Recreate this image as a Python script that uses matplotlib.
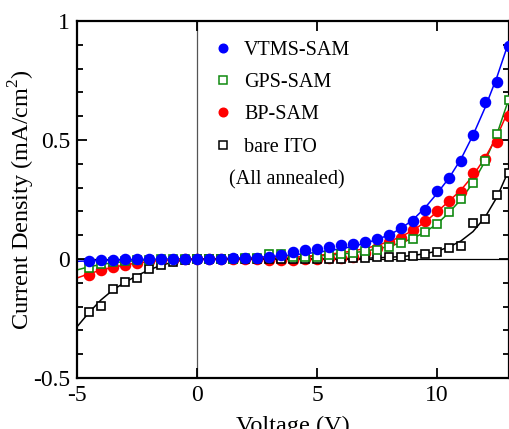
import matplotlib
matplotlib.use('Agg')
import matplotlib.pyplot as plt

plt.rcParams['font.family'] = ['Liberation Serif', 'DejaVu Serif']
plt.rcParams['mathtext.fontset'] = 'custom'
plt.rcParams['mathtext.rm'] = 'Liberation Serif'
plt.rcParams['axes.unicode_minus'] = False

# measured points, -4.5 V to 13 V in 0.5 V steps
volts = [-4.5, -4.0, -3.5, -3.0, -2.5, -2.0, -1.5, -1.0, -0.5, 0.0,
         0.5, 1.0, 1.5, 2.0, 2.5, 3.0, 3.5, 4.0, 4.5, 5.0,
         5.5, 6.0, 6.5, 7.0, 7.5, 8.0, 8.5, 9.0, 9.5, 10.0,
         10.5, 11.0, 11.5, 12.0, 12.5, 13.0]

vtms = [-0.008, -0.005, -0.003, -0.002, -0.002, -0.001, -0.001, 0.0, 0.0, 0.0,
        0.001, 0.001, 0.002, 0.003, 0.005, 0.010, 0.017, 0.028, 0.038, 0.042,
        0.051, 0.059, 0.065, 0.072, 0.083, 0.100, 0.132, 0.160, 0.205, 0.285,
        0.340, 0.410, 0.520, 0.660, 0.745, 0.895]

gps = [-0.038, -0.021, -0.012, -0.008, -0.005, -0.003, -0.002, -0.001, 0.0, 0.0,
       0.0, 0.0, 0.001, 0.002, 0.005, 0.022, 0.020, 0.010, 0.008, 0.010,
       0.018, 0.023, 0.027, 0.033, 0.039, 0.049, 0.067, 0.086, 0.113, 0.148,
       0.197, 0.250, 0.320, 0.410, 0.525, 0.670]

bp = [-0.067, -0.046, -0.034, -0.025, -0.015, -0.008, -0.005, -0.003, -0.001, 0.0,
      0.0, 0.0, 0.0, -0.001, -0.002, -0.004, -0.004, -0.003, -0.001, 0.001,
      0.003, 0.006, 0.010, 0.025, 0.045, 0.070, 0.090, 0.120, 0.160, 0.200,
      0.244, 0.280, 0.360, 0.420, 0.490, 0.600]

ito = [-0.223, -0.197, -0.126, -0.098, -0.080, -0.042, -0.027, -0.013, -0.005, 0.0,
       0.0, 0.0, 0.0, 0.0, 0.0, 0.0, 0.0, 0.0, 0.0, 0.001,
       0.001, 0.001, 0.002, 0.004, 0.008, 0.008, 0.010, 0.013, 0.020, 0.030,
       0.046, 0.055, 0.150, 0.170, 0.270, 0.360]

# fitted curves, -5 V to 13 V
fit_v = [-5.0, -4.5, -4.0, -3.5, -3.0, -2.5, -2.0, -1.5, -1.0, -0.5,
         0.0, 0.5, 1.0, 1.5, 2.0, 2.5, 3.0, 3.5, 4.0, 4.5,
         5.0, 5.5, 6.0, 6.5, 7.0, 7.5, 8.0, 8.5, 9.0, 9.5,
         10.0, 10.5, 11.0, 11.5, 12.0, 12.5, 13.0]

vtms_fit = [-0.010, -0.008, -0.006, -0.005, -0.004, -0.003, -0.002, -0.002, -0.001, -0.001,
            0.0, 0.001, 0.002, 0.003, 0.005, 0.007, 0.010, 0.013, 0.017, 0.022,
            0.028, 0.035, 0.043, 0.053, 0.066, 0.082, 0.101, 0.128, 0.165, 0.215,
            0.275, 0.340, 0.420, 0.520, 0.635, 0.765, 0.915]

gps_fit = [-0.046, -0.033, -0.023, -0.016, -0.011, -0.007, -0.004, -0.002, -0.001, 0.0,
           0.0, 0.0, 0.001, 0.001, 0.002, 0.003, 0.004, 0.005, 0.007, 0.009,
           0.012, 0.016, 0.020, 0.026, 0.033, 0.042, 0.053, 0.068, 0.087, 0.113,
           0.147, 0.195, 0.250, 0.320, 0.410, 0.525, 0.675]

bp_fit = [-0.080, -0.062, -0.047, -0.035, -0.025, -0.017, -0.011, -0.006, -0.003, -0.001,
          0.0, 0.0, 0.001, 0.001, 0.002, 0.003, 0.004, 0.006, 0.008, 0.011,
          0.015, 0.020, 0.026, 0.034, 0.044, 0.057, 0.073, 0.094, 0.120, 0.155,
          0.198, 0.243, 0.290, 0.350, 0.425, 0.515, 0.630]

ito_fit = [-0.285, -0.225, -0.172, -0.130, -0.098, -0.070, -0.046, -0.027, -0.013, -0.004,
           0.0, 0.0, 0.0, 0.0, 0.0, 0.0, 0.0, 0.0, 0.001, 0.001,
           0.001, 0.001, 0.002, 0.002, 0.003, 0.005, 0.007, 0.010, 0.015, 0.022,
           0.033, 0.050, 0.076, 0.115, 0.175, 0.260, 0.375]

labels = ['VTMS-SAM', 'GPS-SAM', 'BP-SAM', 'bare ITO']
colors = ['#0000ff', '#108a10', '#ff0000', '#000000']
markers = ['o', 's', 'o', 's']
filled = [True, False, True, False]
points = [vtms, gps, bp, ito]
fits = [vtms_fit, gps_fit, bp_fit, ito_fit]
zorders = [6, 5, 3, 4]

fig = plt.figure(figsize=(5.10, 4.29), dpi=100)
ax = fig.add_axes([0.151, 0.119, 0.847, 0.832])

ax.axhline(0, color='black', lw=0.9, zorder=1)
ax.axvline(0, color='#555555', lw=0.9, zorder=1)

for ys, fy, c, m, f, z in zip(points, fits, colors, markers, filled, zorders):
    ax.plot(fit_v, fy, color=c, lw=1.1, zorder=2)
    if f:
        ax.plot(volts, ys, m, ms=7.3, mfc=c, mec=c, zorder=z)
    else:
        ax.plot(volts, ys, m, ms=6.3, mfc='white', mec=c, mew=1.2, zorder=z)

# key drawn inside the axes
key_y = [0.924, 0.834, 0.744, 0.654]
for lab, c, m, f, ky in zip(labels, colors, markers, filled, key_y):
    if f:
        ax.plot([0.338], [ky], m, ms=6.2, mfc=c, mec=c, transform=ax.transAxes)
    else:
        ax.plot([0.338], [ky], m, ms=5.2, mfc='white', mec=c, mew=1.1,
                transform=ax.transAxes)
    ax.text(0.387, ky, lab, transform=ax.transAxes, fontsize=14.5,
            va='center_baseline', ha='left')
ax.text(0.352, 0.563, '(All annealed)', transform=ax.transAxes, fontsize=14.5,
        va='center_baseline', ha='left')

ax.set_xlim(-5, 13)
ax.set_ylim(-0.5, 1)
ax.set_xticks([-5, 0, 5, 10])
ax.set_yticks([-0.5, 0, 0.5, 1])
ax.set_yticklabels(['-0.5', '0', '0.5', '1'])
ax.set_yticks([-0.4, -0.3, -0.2, -0.1, 0.1, 0.2, 0.3, 0.4, 0.6, 0.7, 0.8, 0.9], minor=True)
ax.tick_params(which='both', direction='in', top=True, right=True, width=1.3,
               labelsize=17, pad=5)
ax.tick_params(which='major', length=7.5)
ax.tick_params(which='minor', length=4)
for s in ax.spines.values():
    s.set_linewidth(1.6)

ax.set_xlabel('Voltage (V)', fontsize=17.5, labelpad=7)
ax.set_ylabel('Current Density (mA/cm$^2$)', fontsize=17.5)
ax.yaxis.set_label_coords(-0.093, 0.5)

fig.savefig('out.png', dpi=100)
